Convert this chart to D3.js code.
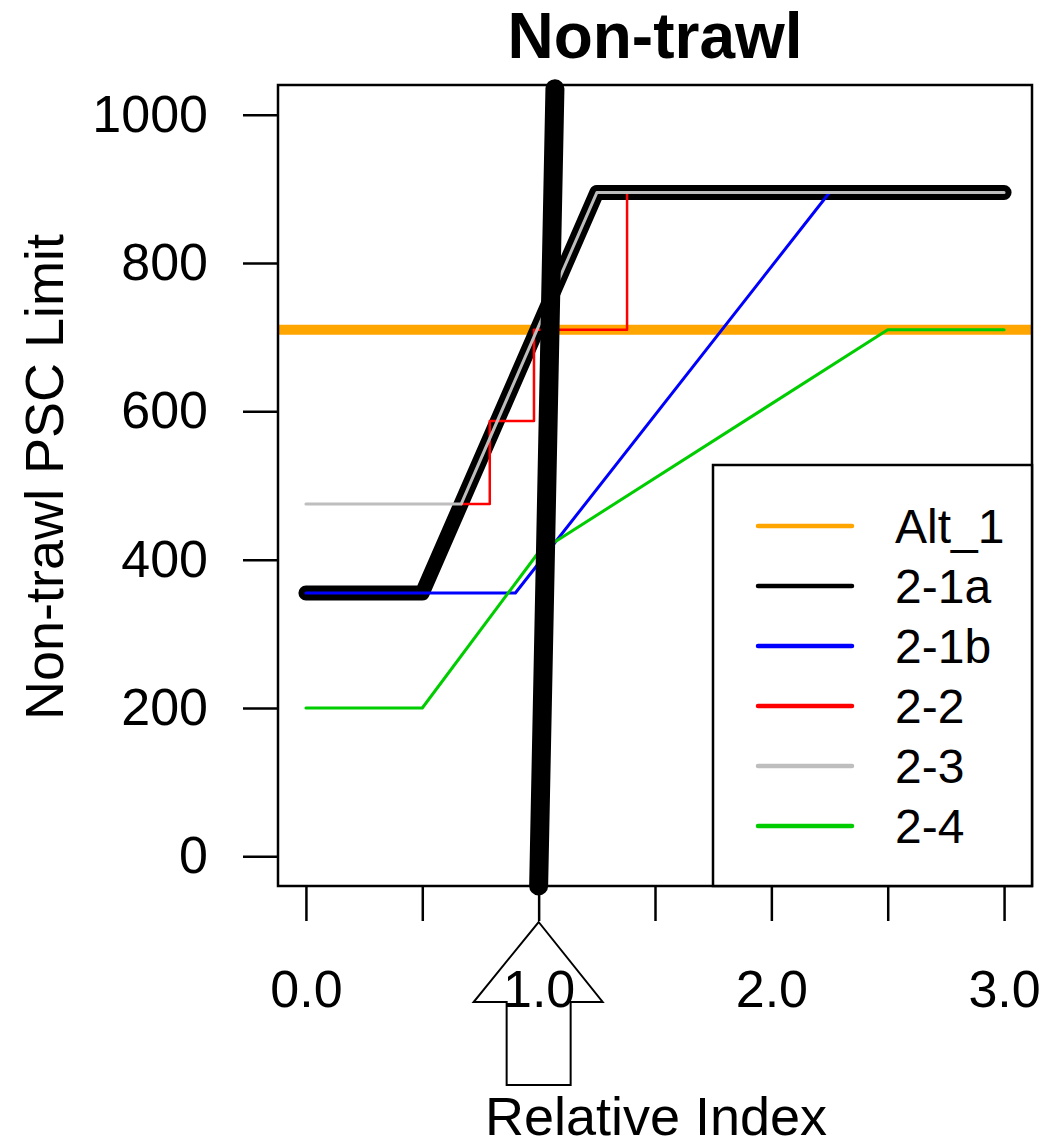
<!DOCTYPE html>
<html><head><meta charset="utf-8">
<script src="https://cdn.jsdelivr.net/npm/d3@7"></script>
<style>
html,body{margin:0;padding:0;background:#fff;}
text{font-family:"Liberation Sans",Arial,sans-serif;}
</style></head>
<body><svg id="c" width="1049" height="1147"></svg>
<script>
// ---- data ----
const alt1Level = 710;
const s21a_x = [0, 0.5, 1.25, 3.0];
const s21a_y = [355, 355, 895, 895];
const s21b_x = [0, 0.9, 2.25];
const s21b_y = [355, 355, 895];
const s22_x = [0.667, 0.79, 0.79, 0.98, 0.98, 1.38, 1.38];
const s22_y = [475, 475, 587, 587, 710, 710, 895];
const s23_x = [0, 0.667, 1.25, 3.0];
const s23_y = [475, 475, 895, 895];
const s24_x = [0, 0.5, 1.0, 2.5, 3.0];
const s24_y = [200, 200, 410, 710, 710];
const marker_x = [1.0, 1.07];
const marker_y = [-40, 1035];
const arrowAt = 1.0;
const xTicks = [0, 0.5, 1, 1.5, 2, 2.5, 3];
const xTickLabels = ["0.0", "", "1.0", "", "2.0", "", "3.0"];
const yTicks = [0, 200, 400, 600, 800, 1000];
const legendLabels = ["Alt_1", "2-1a", "2-1b", "2-2", "2-3", "2-4"];
const legendColors = ["#FFA500", "#000000", "#0000FF", "#FF0000", "#BEBEBE", "#00CD00"];

// ---- layout ----
const svg = d3.select("#c");
const L = 278, R = 1032, T = 85, B = 886;
const x = d3.scaleLinear().domain([-0.12, 3.12]).range([L, R]);
const y = d3.scaleLinear().domain([-40, 1040]).range([B, T]);

svg.append("defs").append("clipPath").attr("id", "pc")
  .append("rect").attr("x", L).attr("y", T).attr("width", R - L).attr("height", B - T);

const zip = (xs, ys) => xs.map((v, i) => [v, ys[i]]);
const line = d3.line().x(d => x(d[0])).y(d => y(d[1]));
const plot = svg.append("g");

// Alt_1 horizontal line
plot.append("line").attr("clip-path", "url(#pc)")
  .attr("x1", L).attr("x2", R).attr("y1", y(alt1Level)).attr("y2", y(alt1Level))
  .attr("stroke", legendColors[0]).attr("stroke-width", 10);

const series = [
  [s21a_x, s21a_y, legendColors[1], 15],
  [s21b_x, s21b_y, legendColors[2], 3],
  [s22_x, s22_y, legendColors[3], 2.5],
  [s23_x, s23_y, legendColors[4], 3],
  [s24_x, s24_y, legendColors[5], 3]
];
series.forEach(([xs, ys, col, w]) => {
  plot.append("path").attr("d", line(zip(xs, ys)))
    .attr("fill", "none").attr("stroke", col).attr("stroke-width", w)
    .attr("stroke-linecap", "round").attr("stroke-linejoin", "round");
});

// thick marker line
plot.append("path").attr("d", line(zip(marker_x, marker_y)))
  .attr("fill", "none").attr("stroke", "#000").attr("stroke-width", 19)
  .attr("stroke-linecap", "round");

// box
svg.append("rect").attr("x", L).attr("y", T).attr("width", R - L).attr("height", B - T)
  .attr("fill", "none").attr("stroke", "#000").attr("stroke-width", 2.5);

// axes
const yAxis = svg.append("g").attr("transform", `translate(${L},0)`)
  .call(d3.axisLeft(y).tickValues(yTicks).tickSize(35).tickPadding(35).tickFormat(d3.format("d")));
yAxis.select(".domain").remove();
yAxis.selectAll("line").attr("stroke-width", 2.5);
yAxis.selectAll("text").attr("font-size", 52).attr("font-family", '"Liberation Sans",Arial,sans-serif').attr("fill", "#000");

const xAxis = svg.append("g").attr("transform", `translate(0,${B})`)
  .call(d3.axisBottom(x).tickValues(xTicks).tickSize(35).tickFormat((d, i) => xTickLabels[i]));
xAxis.select(".domain").remove();
xAxis.selectAll("line").attr("stroke-width", 2.5);
xAxis.selectAll("text").attr("font-size", 52).attr("font-family", '"Liberation Sans",Arial,sans-serif')
  .attr("fill", "#000").attr("dy", null).attr("y", 121);

// legend
const lg = svg.append("g");
const lgX = 713, lgY = 465;
lg.append("rect").attr("x", lgX).attr("y", lgY).attr("width", R - lgX).attr("height", B - lgY)
  .attr("fill", "#fff").attr("stroke", "#000").attr("stroke-width", 2.5);
legendLabels.forEach((lab, i) => {
  const yy = 526 + i * 60;
  lg.append("line").attr("x1", 758).attr("x2", 852).attr("y1", yy).attr("y2", yy)
    .attr("stroke", legendColors[i]).attr("stroke-width", 4.5).attr("stroke-linecap", "round");
  lg.append("text").attr("x", 895).attr("y", yy + 17).attr("font-size", 48).text(lab);
});

// arrow below axis
const ax = x(arrowAt);
const arrowPts = [[ax, 922], [ax + 64, 1002], [ax + 32, 1002], [ax + 32, 1085], [ax - 32, 1085], [ax - 32, 1002], [ax - 65, 1002]];
svg.append("path").attr("d", "M" + arrowPts.map(p => p.join(",")).join("L") + "Z")
  .attr("fill", "none").attr("stroke", "#000").attr("stroke-width", 2);

// titles
svg.append("text").attr("x", (L + R) / 2).attr("y", 58).attr("text-anchor", "middle")
  .attr("font-size", 64).attr("font-weight", "bold").text("Non-trawl");
svg.append("text").attr("x", 656).attr("y", 1135).attr("text-anchor", "middle")
  .attr("font-size", 54).text("Relative Index");
svg.append("text").attr("transform", "translate(63,477) rotate(-90)").attr("text-anchor", "middle")
  .attr("font-size", 54).text("Non-trawl PSC Limit");
</script></body></html>
